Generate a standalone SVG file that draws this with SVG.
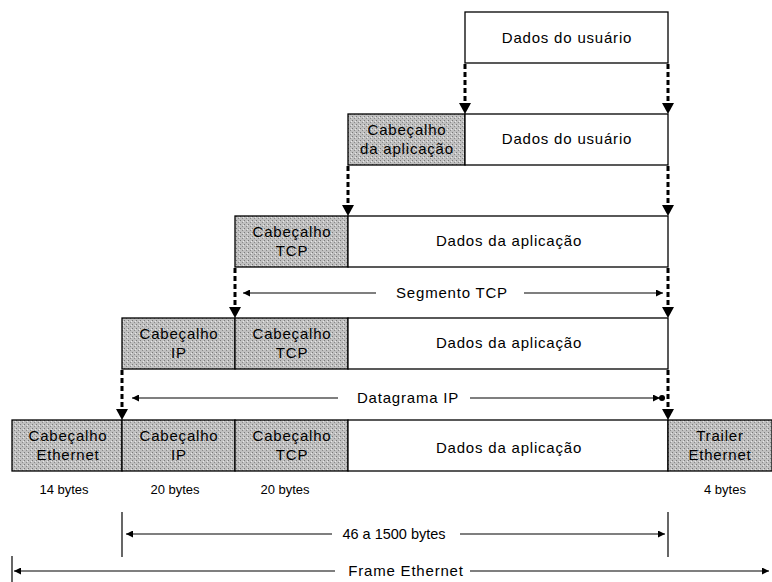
<svg xmlns="http://www.w3.org/2000/svg" width="772" height="582" viewBox="0 0 772 582">
<style>
.box{fill:#fff;stroke:#000;stroke-width:1.3}
.hdr{fill:url(#stip);stroke:#000;stroke-width:1.3}
.t{font-family:"Liberation Sans",Arial,sans-serif;font-size:15px;letter-spacing:0.8px;fill:#000;text-anchor:middle}
.n{font-family:"Liberation Sans",Arial,sans-serif;font-size:14.5px;fill:#000;text-anchor:middle}
.s{font-family:"Liberation Sans",Arial,sans-serif;font-size:13px;fill:#000;text-anchor:middle}
.dash{stroke:#000;stroke-width:3;stroke-dasharray:5 3;fill:none}
.ln{stroke:#000;stroke-width:1.2;fill:none}
</style>
<defs>
<pattern id="stip" width="4" height="4" patternUnits="userSpaceOnUse">
<rect width="4" height="4" fill="#c0c0c0"/>
<rect x="0" y="0" width="1" height="1" fill="#7a7a7a"/>
<rect x="2" y="2" width="1" height="1" fill="#8a8a8a"/>
<rect x="3" y="1" width="1" height="1" fill="#e8e8e8"/>
</pattern>
<marker id="sh" viewBox="0 0 10 10" refX="10" refY="5" markerWidth="9" markerHeight="7" markerUnits="userSpaceOnUse" orient="auto">
<path d="M0,0 L10,5 L0,10 z" fill="#000"/>
</marker>
</defs>

<g id="row1">
<rect class="box" x="465" y="12" width="203" height="51"/>
<text class="t" x="567" y="43">Dados do usuário</text>
</g>
<g id="row2">
<rect class="hdr" x="348" y="114" width="117" height="51"/>
<rect class="box" x="465" y="114" width="203" height="51"/>
<text class="t" x="407" y="135">Cabeçalho</text>
<text class="t" x="407" y="154">da aplicação</text>
<text class="t" x="567" y="144">Dados do usuário</text>
</g>
<g id="row3">
<rect class="hdr" x="235" y="216" width="113" height="51"/>
<rect class="box" x="348" y="216" width="320" height="51"/>
<text class="t" x="292" y="237">Cabeçalho</text>
<text class="t" x="292" y="256">TCP</text>
<text class="t" x="509" y="246">Dados da aplicação</text>
</g>
<g id="row4">
<rect class="hdr" x="122" y="318" width="113" height="51"/>
<rect class="hdr" x="235" y="318" width="113" height="51"/>
<rect class="box" x="348" y="318" width="320" height="51"/>
<text class="t" x="179" y="339">Cabeçalho</text>
<text class="t" x="179" y="358">IP</text>
<text class="t" x="292" y="339">Cabeçalho</text>
<text class="t" x="292" y="358">TCP</text>
<text class="t" x="509" y="348">Dados da aplicação</text>
</g>
<g id="row5">
<rect class="hdr" x="12" y="420" width="110" height="51"/>
<rect class="hdr" x="122" y="420" width="113" height="51"/>
<rect class="hdr" x="235" y="420" width="113" height="51"/>
<rect class="box" x="348" y="420" width="320" height="51"/>
<rect class="hdr" x="668" y="420" width="104" height="51"/>
<text class="t" x="68" y="441">Cabeçalho</text>
<text class="t" x="68" y="460">Ethernet</text>
<text class="t" x="179" y="441">Cabeçalho</text>
<text class="t" x="179" y="460">IP</text>
<text class="t" x="292" y="441">Cabeçalho</text>
<text class="t" x="292" y="460">TCP</text>
<text class="t" x="509" y="453">Dados da aplicação</text>
<text class="t" x="720" y="441">Trailer</text>
<text class="t" x="720" y="460">Ethernet</text>
</g>
<g id="sizes">
<text class="s" x="64" y="494">14 bytes</text>
<text class="s" x="175" y="494">20 bytes</text>
<text class="s" x="285" y="494">20 bytes</text>
<text class="s" x="725" y="494">4 bytes</text>
</g>

<g id="connectors">
<path class="dash" d="M465,64 V104"/>
<path class="dash" d="M668,64 V104"/>
<path class="dash" d="M348,166 V206"/>
<path class="dash" d="M668,166 V206"/>
<path class="dash" d="M235,268 V308"/>
<path class="dash" d="M668,268 V308"/>
<path class="dash" d="M122,370 V410"/>
<path class="dash" d="M668,370 V410"/>
<g fill="#000">
<path d="M459,103 L471,103 L465,114 z"/>
<path d="M662,103 L674,103 L668,114 z"/>
<path d="M342,205 L354,205 L348,216 z"/>
<path d="M662,205 L674,205 L668,216 z"/>
<path d="M229,307 L241,307 L235,318 z"/>
<path d="M662,307 L674,307 L668,318 z"/>
<path d="M116,409 L128,409 L122,420 z"/>
<path d="M662,409 L674,409 L668,420 z"/>
</g>

<path class="ln" d="M376,293 H243" marker-end="url(#sh)"/>
<path class="ln" d="M524,293 H663" marker-end="url(#sh)"/>
<text class="t" x="452" y="298">Segmento TCP</text>

<path class="ln" d="M338,398 H132" marker-end="url(#sh)"/>
<path class="ln" d="M470,398 H660" marker-end="url(#sh)"/>
<circle cx="662" cy="398" r="3" fill="#000"/>
<text class="t" x="408" y="403">Datagrama IP</text>

<path class="ln" d="M122,512 V557"/>
<path class="ln" d="M668,512 V557"/>
<path class="ln" d="M332,534 H126" marker-end="url(#sh)"/>
<path class="ln" d="M460,534 H665" marker-end="url(#sh)"/>
<text class="n" x="394" y="539">46 a 1500 bytes</text>

<path class="ln" d="M12,556 V582"/>
<path class="ln" d="M335,571 H14" marker-end="url(#sh)"/>
<path class="ln" d="M470,571 H769" marker-end="url(#sh)"/>
<text class="t" x="406" y="576">Frame Ethernet</text>
</g>
</svg>
